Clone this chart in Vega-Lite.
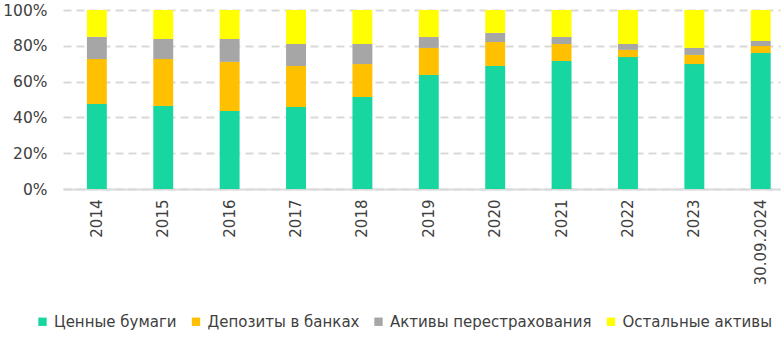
{
  "$schema": "https://vega.github.io/schema/vega-lite/v6.json",
  "width": 717,
  "height": 179,
  "autosize": {"type": "none"},
  "padding": {"left": 63, "top": 10, "right": 1, "bottom": 149},
  "background": "white",
  "config": {"view": {"stroke": null}, "font": "DejaVu Sans"},
  "data": {"values": [
    {"year": "2014", "cat": "Ценные бумаги", "k": 1, "v": 47.5},
    {"year": "2014", "cat": "Депозиты в банках", "k": 2, "v": 25.1},
    {"year": "2014", "cat": "Активы перестрахования", "k": 3, "v": 12.4},
    {"year": "2014", "cat": "Остальные активы", "k": 4, "v": 15.0},
    {"year": "2015", "cat": "Ценные бумаги", "k": 1, "v": 46.4},
    {"year": "2015", "cat": "Депозиты в банках", "k": 2, "v": 26.2},
    {"year": "2015", "cat": "Активы перестрахования", "k": 3, "v": 11.2},
    {"year": "2015", "cat": "Остальные активы", "k": 4, "v": 16.2},
    {"year": "2016", "cat": "Ценные бумаги", "k": 1, "v": 43.6},
    {"year": "2016", "cat": "Депозиты в банках", "k": 2, "v": 27.4},
    {"year": "2016", "cat": "Активы перестрахования", "k": 3, "v": 12.8},
    {"year": "2016", "cat": "Остальные активы", "k": 4, "v": 16.2},
    {"year": "2017", "cat": "Ценные бумаги", "k": 1, "v": 45.8},
    {"year": "2017", "cat": "Депозиты в банках", "k": 2, "v": 22.9},
    {"year": "2017", "cat": "Активы перестрахования", "k": 3, "v": 12.3},
    {"year": "2017", "cat": "Остальные активы", "k": 4, "v": 19.0},
    {"year": "2018", "cat": "Ценные бумаги", "k": 1, "v": 51.4},
    {"year": "2018", "cat": "Депозиты в банках", "k": 2, "v": 18.4},
    {"year": "2018", "cat": "Активы перестрахования", "k": 3, "v": 11.2},
    {"year": "2018", "cat": "Остальные активы", "k": 4, "v": 19.0},
    {"year": "2019", "cat": "Ценные бумаги", "k": 1, "v": 63.7},
    {"year": "2019", "cat": "Депозиты в банках", "k": 2, "v": 15.1},
    {"year": "2019", "cat": "Активы перестрахования", "k": 3, "v": 6.1},
    {"year": "2019", "cat": "Остальные активы", "k": 4, "v": 15.1},
    {"year": "2020", "cat": "Ценные бумаги", "k": 1, "v": 68.7},
    {"year": "2020", "cat": "Депозиты в банках", "k": 2, "v": 13.4},
    {"year": "2020", "cat": "Активы перестрахования", "k": 3, "v": 5.1},
    {"year": "2020", "cat": "Остальные активы", "k": 4, "v": 12.8},
    {"year": "2021", "cat": "Ценные бумаги", "k": 1, "v": 71.5},
    {"year": "2021", "cat": "Депозиты в банках", "k": 2, "v": 9.5},
    {"year": "2021", "cat": "Активы перестрахования", "k": 3, "v": 3.9},
    {"year": "2021", "cat": "Остальные активы", "k": 4, "v": 15.1},
    {"year": "2022", "cat": "Ценные бумаги", "k": 1, "v": 73.7},
    {"year": "2022", "cat": "Депозиты в банках", "k": 2, "v": 4.0},
    {"year": "2022", "cat": "Активы перестрахования", "k": 3, "v": 3.3},
    {"year": "2022", "cat": "Остальные активы", "k": 4, "v": 19.0},
    {"year": "2023", "cat": "Ценные бумаги", "k": 1, "v": 69.8},
    {"year": "2023", "cat": "Депозиты в банках", "k": 2, "v": 5.1},
    {"year": "2023", "cat": "Активы перестрахования", "k": 3, "v": 3.9},
    {"year": "2023", "cat": "Остальные активы", "k": 4, "v": 21.2},
    {"year": "30.09.2024", "cat": "Ценные бумаги", "k": 1, "v": 76.0},
    {"year": "30.09.2024", "cat": "Депозиты в банках", "k": 2, "v": 3.9},
    {"year": "30.09.2024", "cat": "Активы перестрахования", "k": 3, "v": 2.8},
    {"year": "30.09.2024", "cat": "Остальные активы", "k": 4, "v": 17.3}
  ]},
  "mark": {"type": "bar"},
  "encoding": {
    "x": {
      "field": "year", "type": "nominal", "sort": null,
      "scale": {"paddingInner": 0.7, "paddingOuter": 0.25, "align": 0.72},
      "axis": {
        "title": null, "labelAngle": -90, "labelFontSize": 15, "labelColor": "#404040",
        "labelPadding": 10, "ticks": false, "domainColor": "#d9d9d9", "domainWidth": 2,
        "labelAlign": "right", "labelBaseline": "middle"
      }
    },
    "y": {
      "field": "v", "type": "quantitative", "stack": "normalize",
      "scale": {"domain": [0, 1]},
      "axis": {
        "title": null, "format": ".0%", "values": [0, 0.2, 0.4, 0.6, 0.8, 1],
        "labelFontSize": 15.5, "labelColor": "#404040", "labelPadding": 16,
        "ticks": false, "domain": false, "gridColor": "#d9d9d9", "gridWidth": 2,
        "gridDash": [8, 5]
      }
    },
    "color": {
      "field": "cat", "type": "nominal",
      "scale": {
        "domain": ["Ценные бумаги", "Депозиты в банках", "Активы перестрахования", "Остальные активы"],
        "range": ["#17D6A0", "#FFC000", "#A6A6A6", "#FFFF00"]
      },
      "legend": {
        "title": null, "orient": "none", "direction": "horizontal",
        "legendX": -28, "legendY": 304,
        "symbolType": "square", "symbolSize": 70, "symbolStrokeWidth": 0,
        "labelFontSize": 15, "labelColor": "#404040", "labelOffset": 4,
        "columnPadding": 11.5, "labelLimit": 300
      }
    },
    "order": {"field": "k", "type": "quantitative", "sort": "ascending"}
  }
}
